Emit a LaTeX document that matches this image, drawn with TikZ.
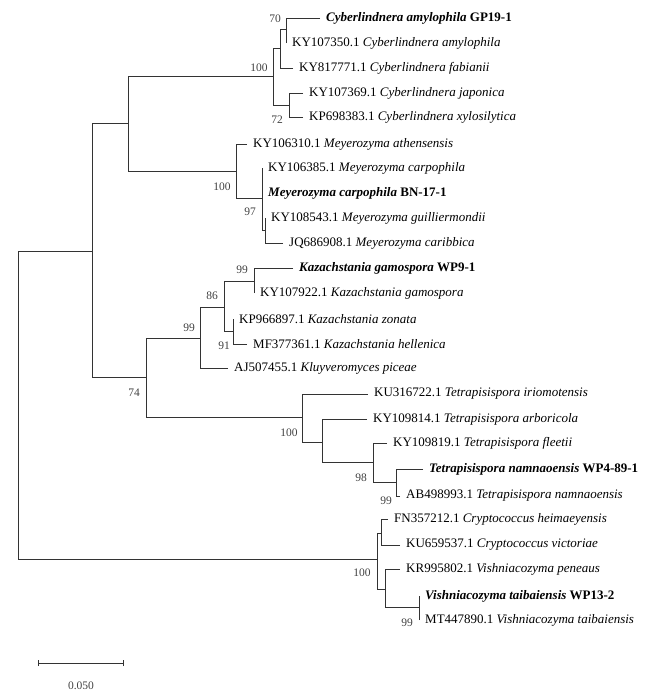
\documentclass[tikz,border=0pt]{standalone}
\usepackage{fontspec}
\setmainfont{Liberation Serif}
\usetikzlibrary{positioning}
\tikzset{
  taxon/.style={inner sep=0pt,anchor=west,font=\fontsize{13}{14}\selectfont},
  boot/.style={inner sep=0pt,text=black!75,font=\fontsize{11.5}{12}\selectfont},
  branch/.style={draw=black!80,line width=0.9pt}
}
\begin{document}
\begin{tikzpicture}[x=1pt,y=-1pt]
        \useasboundingbox (0,0) rectangle (660,699);
        % inner nodes
        \coordinate (root) at (18,405);
        \coordinate (P) at (92,251);
        \coordinate (Q) at (128,123);
        \coordinate (Cy) at (273,76);
        \coordinate (C70a) at (280,48);
        \coordinate (C70) at (286,29);
        \coordinate (C72) at (289,105);
        \coordinate (My) at (236,171);
        \coordinate (M97) at (262,198);
        \coordinate (M97b) at (265,230);
        \coordinate (K74) at (146,377);
        \coordinate (K99) at (200,338);
        \coordinate (K86) at (224,307);
        \coordinate (K99a) at (254,281);
        \coordinate (K91) at (233,331);
        \coordinate (T100) at (302,417);
        \coordinate (TX) at (322,442);
        \coordinate (T98) at (373,462);
        \coordinate (T99) at (396,482);
        \coordinate (C100) at (377,559);
        \coordinate (Cc) at (381,533);
        \coordinate (Cv) at (385,589);
        \coordinate (V99) at (419,607);
        % leaf tips
        \coordinate (l1) at (320,18);
        \coordinate (l2) at (286,43);
        \coordinate (l3) at (293,68);
        \coordinate (l4) at (303,93);
        \coordinate (l5) at (303,117);
        \coordinate (l6) at (247,144);
        \coordinate (l7) at (262,168);
        \coordinate (l8) at (262,193);
        \coordinate (l9) at (265,218);
        \coordinate (l10) at (283,243);
        \coordinate (l11) at (293,268);
        \coordinate (l12) at (254,293);
        \coordinate (l13) at (233,319);
        \coordinate (l14) at (247,344);
        \coordinate (l15) at (228,368);
        \coordinate (l16) at (368,394);
        \coordinate (l17) at (367,419);
        \coordinate (l18) at (387,443);
        \coordinate (l19) at (423,469);
        \coordinate (l20) at (400,496);
        \coordinate (l21) at (388,519);
        \coordinate (l22) at (400,545);
        \coordinate (l23) at (400,569);
        \coordinate (l24) at (419,596);
        \coordinate (l25) at (419,620);
        % branches
        \foreach \c/\p in {P/root,C100/root,Q/P,K74/P,Cy/Q,My/Q,C70a/Cy,C72/Cy,C70/C70a,
            l1/C70,l2/C70,l3/C70a,l4/C72,l5/C72,l6/My,M97/My,l7/M97,l8/M97,M97b/M97,
            l9/M97b,l10/M97b,K99/K74,T100/K74,K86/K99,l15/K99,K99a/K86,K91/K86,
            l11/K99a,l12/K99a,l13/K91,l14/K91,l16/T100,TX/T100,l17/TX,T98/TX,
            l18/T98,T99/T98,l19/T99,l20/T99,Cc/C100,Cv/C100,l21/Cc,l22/Cc,
            l23/Cv,V99/Cv,l24/V99,l25/V99}
            \draw[branch] (\c) -| (\p);
        % taxa
        \node[taxon,right=6pt of l1] (n1) {\textbf{\textit{Cyberlindnera amylophila}} \textbf{GP19-1}};
        \node[taxon,right=6pt of l2] (n2) {KY107350.1 \textit{Cyberlindnera amylophila}};
        \node[taxon,right=6pt of l3] (n3) {KY817771.1 \textit{Cyberlindnera fabianii}};
        \node[taxon,right=6pt of l4] (n4) {KY107369.1 \textit{Cyberlindnera japonica}};
        \node[taxon,right=6pt of l5] (n5) {KP698383.1 \textit{Cyberlindnera xylosilytica}};
        \node[taxon,right=6pt of l6] (n6) {KY106310.1 \textit{Meyerozyma athensensis}};
        \node[taxon,right=6pt of l7] (n7) {KY106385.1 \textit{Meyerozyma carpophila}};
        \node[taxon,right=6pt of l8] (n8) {\textbf{\textit{Meyerozyma carpophila}} \textbf{BN-17-1}};
        \node[taxon,right=6pt of l9] (n9) {KY108543.1 \textit{Meyerozyma guilliermondii}};
        \node[taxon,right=6pt of l10] (n10) {JQ686908.1 \textit{Meyerozyma caribbica}};
        \node[taxon,right=6pt of l11] (n11) {\textbf{\textit{Kazachstania gamospora}} \textbf{WP9-1}};
        \node[taxon,right=6pt of l12] (n12) {KY107922.1 \textit{Kazachstania gamospora}};
        \node[taxon,right=6pt of l13] (n13) {KP966897.1 \textit{Kazachstania zonata}};
        \node[taxon,right=6pt of l14] (n14) {MF377361.1 \textit{Kazachstania hellenica}};
        \node[taxon,right=6pt of l15] (n15) {AJ507455.1 \textit{Kluyveromyces piceae}};
        \node[taxon,right=6pt of l16] (n16) {KU316722.1 \textit{Tetrapisispora iriomotensis}};
        \node[taxon,right=6pt of l17] (n17) {KY109814.1 \textit{Tetrapisispora arboricola}};
        \node[taxon,right=6pt of l18] (n18) {KY109819.1 \textit{Tetrapisispora fleetii}};
        \node[taxon,right=6pt of l19] (n19) {\textbf{\textit{Tetrapisispora namnaoensis}} \textbf{WP4-89-1}};
        \node[taxon,right=6pt of l20] (n20) {AB498993.1 \textit{Tetrapisispora namnaoensis}};
        \node[taxon,right=6pt of l21] (n21) {FN357212.1 \textit{Cryptococcus heimaeyensis}};
        \node[taxon,right=6pt of l22] (n22) {KU659537.1 \textit{Cryptococcus victoriae}};
        \node[taxon,right=6pt of l23] (n23) {KR995802.1 \textit{Vishniacozyma peneaus}};
        \node[taxon,right=6pt of l24] (n24) {\textbf{\textit{Vishniacozyma taibaiensis}} \textbf{WP13-2}};
        \node[taxon,right=6pt of l25] (n25) {MT447890.1 \textit{Vishniacozyma taibaiensis}};
        % bootstrap values
        \node[boot] (b1) at (275,19) {70};
        \node[boot] (b2) at (259,68) {100};
        \node[boot] (b3) at (277,120) {72};
        \node[boot] (b4) at (222,187) {100};
        \node[boot] (b5) at (250,212) {97};
        \node[boot] (b6) at (242,270) {99};
        \node[boot] (b7) at (212,296) {86};
        \node[boot] (b8) at (189,328) {99};
        \node[boot] (b9) at (224,346) {91};
        \node[boot] (b10) at (134,393) {74};
        \node[boot] (b11) at (289,433) {100};
        \node[boot] (b12) at (361,478) {98};
        \node[boot] (b13) at (386,501) {99};
        \node[boot] (b14) at (362,573) {100};
        \node[boot] (b15) at (407,623) {99};
        % scale bar
        \coordinate (s0) at (38,663);
        \coordinate (s1) at (123,663);
        \draw[branch] (s0) -- (s1);
        \draw[branch] ([yshift=-3pt]s0) -- ([yshift=3pt]s0);
        \draw[branch] ([yshift=-3pt]s1) -- ([yshift=3pt]s1);
        \node[boot] (sl) at (81,686) {0.050};
\end{tikzpicture}
\end{document}
